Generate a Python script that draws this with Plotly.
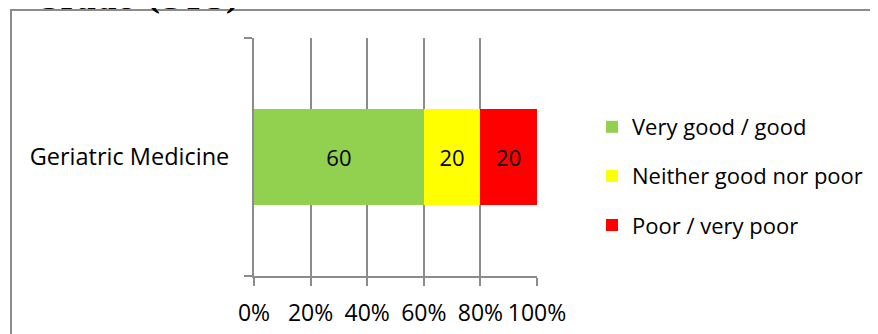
import plotly.graph_objects as go

# data
specialty = ["Geriatric Medicine"]
ratings = ["Very good / good", "Neither good nor poor", "Poor / very poor"]
shares = [[60], [20], [20]]
colours = ["#92D050", "#FFFF00", "#FF0000"]
x_ticks = [0, 20, 40, 60, 80, 100]

# page body has an 8px margin, so the figure is sized to fit in the window
W, H = 870, 326
FONT = "Open Sans"
GRID = "#8c8c8c"

fig = go.Figure()
for i, (name, vals, col) in enumerate(zip(ratings, shares, colours)):
    fig.add_trace(go.Bar(
        y=specialty, x=vals, name=name, orientation="h",
        marker=dict(color=col, line=dict(width=0)),
        text=[str(v) for v in vals], textposition="inside",
        insidetextanchor="middle", textangle=0,
        textfont=dict(family=FONT, size=22, color="black"),
        legendgroup=str(i),
    ))

fig.update_layout(
    width=W, height=H,
    margin=dict(l=0, r=0, t=0, b=0, autoexpand=False),
    paper_bgcolor="white", plot_bgcolor="white",
    barmode="stack", bargap=0.6,
    font=dict(family=FONT, color="black"),
    showlegend=True,
    legend=dict(
        x=584 / W, y=(H - 98) / H, xanchor="left", yanchor="top",
        traceorder="grouped", tracegroupgap=17.5,
        font=dict(family=FONT, size=22, color="black"),
        itemwidth=30, bgcolor="rgba(0,0,0,0)",
    ),
    xaxis=dict(
        domain=[246 / W, 529 / W], range=[0, 100], automargin=False,
        tickvals=x_ticks, ticktext=[f"{v}%" for v in x_ticks],
        showgrid=True, gridcolor=GRID, gridwidth=2,
        showline=True, linecolor=GRID, linewidth=2,
        ticks="outside", ticklen=8, tickcolor=GRID, tickwidth=2,
        tickfont=dict(family=FONT, size=23, color="black"),
        ticklabelstandoff=7,
        zeroline=False, fixedrange=True,
    ),
    yaxis=dict(
        domain=[(H - 268) / H, (H - 30) / H], automargin=False,
        showgrid=False, showline=True, linecolor=GRID, linewidth=2,
        ticks="outside", ticklen=8, tickcolor=GRID, tickwidth=2,
        tickson="boundaries",
        tickfont=dict(family=FONT, size=23.5, color="black"),
        ticklabelstandoff=18,
    ),
    shapes=[dict(
        type="rect", xref="paper", yref="paper",
        x0=3 / W, x1=1.05, y0=-0.05, y1=(H - 2) / H,
        line=dict(color=GRID, width=2), fillcolor="rgba(0,0,0,0)",
        layer="below",
    )],
    annotations=[dict(
        text="<b>Grade (ST3)</b>", xref="paper", yref="paper",
        x=234 / W, y=(H - 10) / H, xanchor="right", yanchor="bottom",
        showarrow=False,
        font=dict(family="DejaVu Serif", size=30, color="black"),
    )],
)

fig.write_html("out.html")
